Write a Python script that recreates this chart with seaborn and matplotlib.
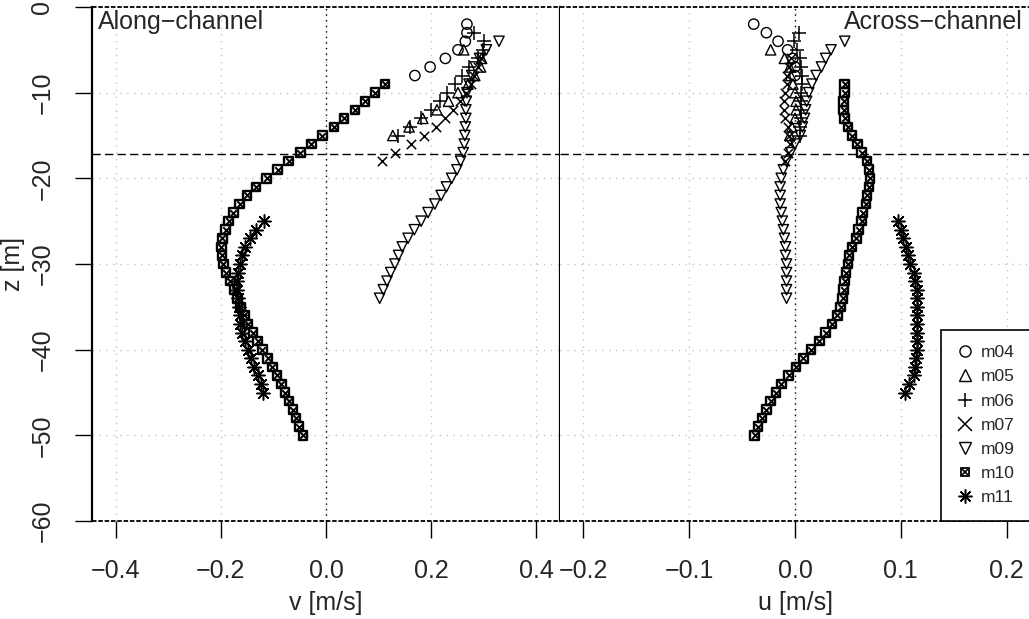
import numpy as np
import pandas as pd
import matplotlib
matplotlib.use("Agg")
import matplotlib.pyplot as plt
import seaborn as sns
from matplotlib.lines import Line2D

sns.set_theme(style="white")
plt.rcParams['font.family'] = ['Liberation Sans', 'DejaVu Sans']

# ---------------- data ----------------
stations = ["m04", "m05", "m06", "m07", "m09", "m10", "m11"]

z_m04 = [-2, -3, -4, -5, -6, -7, -8]
v_m04 = [0.268, 0.268, 0.265, 0.251, 0.227, 0.198, 0.169]
u_m04 = [-0.039, -0.027, -0.016, -0.007, -0.002, 0.000, 0.000]

z_m05 = [-5, -6, -7, -8, -9, -10, -11, -12, -13, -14, -15]
v_m05 = [0.262, 0.296, 0.294, 0.283, 0.270, 0.251, 0.233, 0.211, 0.184, 0.158, 0.127]
u_m05 = [-0.023, -0.010, -0.005, -0.004, -0.002, 0.000, 0.001, 0.001, 0.000, -0.003, -0.005]

z_m06 = [-3, -4, -5, -6, -7, -8, -9, -10, -11, -12, -13, -14, -15]
v_m06 = [0.281, 0.300, 0.298, 0.290, 0.271, 0.259, 0.246, 0.230, 0.216, 0.199, 0.181, 0.159, 0.137]
u_m06 = [0.004, -0.001, 0.002, 0.005, 0.006, 0.007, 0.007, 0.006, 0.006, 0.006, 0.006, 0.005, 0.005]

z_m07 = [-6, -7, -8, -9, -10, -11, -12, -13, -14, -15, -16, -17, -18]
v_m07 = [0.295, 0.289, 0.282, 0.276, 0.267, 0.254, 0.241, 0.227, 0.210, 0.186, 0.161, 0.131, 0.106]
u_m07 = [-0.004, -0.006, -0.008, -0.008, -0.009, -0.010, -0.010, -0.009, -0.007, -0.006, -0.005, -0.007, -0.009]

z_m09 = [-4, -5, -6, -7, -8, -9, -10, -11, -12, -13, -14, -15, -16, -17, -18, -19,
         -20, -21, -22, -23, -24, -25, -26, -27, -28, -29, -30, -31, -32, -33, -34]
v_m09 = [0.329, 0.305, 0.292, 0.284, 0.277, 0.272, 0.268, 0.267, 0.266, 0.266, 0.265,
         0.264, 0.263, 0.261, 0.256, 0.249, 0.239, 0.229, 0.219, 0.207, 0.194, 0.181,
         0.168, 0.156, 0.145, 0.138, 0.131, 0.123, 0.116, 0.109, 0.102]
u_m09 = [0.047, 0.034, 0.029, 0.025, 0.020, 0.016, 0.013, 0.011, 0.010, 0.009, 0.007,
         0.005, 0.000, -0.004, -0.008, -0.011, -0.013, -0.014, -0.014, -0.014, -0.013,
         -0.012, -0.011, -0.010, -0.009, -0.009, -0.008, -0.008, -0.008, -0.008, -0.008]

z_m10 = [-9, -10, -11, -12, -13, -14, -15, -16, -17, -18, -19, -20, -21, -22, -23, -24,
         -25, -26, -27, -28, -29, -30, -31, -32, -33, -34, -35, -36, -37, -38, -39, -40,
         -41, -42, -43, -44, -45, -46, -47, -48, -49, -50]
v_m10 = [0.112, 0.093, 0.074, 0.055, 0.034, 0.015, -0.007, -0.028, -0.049, -0.071,
         -0.092, -0.113, -0.133, -0.150, -0.164, -0.176, -0.185, -0.191, -0.197, -0.199,
         -0.198, -0.195, -0.190, -0.182, -0.174, -0.168, -0.163, -0.155, -0.148, -0.139,
         -0.130, -0.121, -0.111, -0.102, -0.093, -0.085, -0.078, -0.070, -0.063, -0.057,
         -0.051, -0.044]
u_m10 = [0.047, 0.047, 0.046, 0.046, 0.047, 0.050, 0.054, 0.059, 0.063, 0.068, 0.070,
         0.071, 0.070, 0.068, 0.067, 0.064, 0.063, 0.060, 0.058, 0.054, 0.051, 0.050,
         0.048, 0.047, 0.046, 0.045, 0.043, 0.040, 0.035, 0.029, 0.023, 0.015, 0.008,
         0.001, -0.006, -0.013, -0.018, -0.023, -0.027, -0.031, -0.035, -0.038]

z_m11 = [-25, -26, -27, -28, -29, -30, -31, -32, -33, -34, -35, -36, -37, -38, -39,
         -40, -41, -42, -43, -44, -45]
v_m11 = [-0.117, -0.133, -0.145, -0.154, -0.160, -0.164, -0.167, -0.169, -0.169, -0.168,
         -0.166, -0.164, -0.163, -0.160, -0.154, -0.148, -0.142, -0.136, -0.130, -0.123,
         -0.119]
u_m11 = [0.097, 0.100, 0.102, 0.105, 0.107, 0.109, 0.112, 0.113, 0.115, 0.115, 0.115,
         0.115, 0.115, 0.115, 0.115, 0.115, 0.114, 0.113, 0.112, 0.108, 0.104]

z_interface = -17.2

v_ticks = [-0.4, -0.2, 0.0, 0.2, 0.4]
v_ticklabels = ["\u22120.4", "\u22120.2", "0.0", "0.2", "0.4"]
u_ticks = [-0.2, -0.1, 0.0, 0.1, 0.2]
u_ticklabels = ["\u22120.2", "\u22120.1", "0.0", "0.1", "0.2"]
z_ticks = [0, -10, -20, -30, -40, -50, -60]
z_ticklabels = ["0", "\u221210", "\u221220", "\u221230", "\u221240", "\u221250", "\u221260"]

series = {
    "m04": (z_m04, v_m04, u_m04),
    "m05": (z_m05, v_m05, u_m05),
    "m06": (z_m06, v_m06, u_m06),
    "m07": (z_m07, v_m07, u_m07),
    "m09": (z_m09, v_m09, u_m09),
    "m10": (z_m10, v_m10, u_m10),
    "m11": (z_m11, v_m11, u_m11),
}
frames = []
for st in stations:
    z, v, u = series[st]
    frames.append(pd.DataFrame({"station": st, "z": z, "v": v, "u": u}))
df = pd.concat(frames, ignore_index=True)

# ---------------- styles ----------------
styles = {
    "m04": dict(marker="o", s=55, open=True, lw=1.0),
    "m05": dict(marker="^", s=55, open=True, lw=1.0),
    "m06": dict(marker="+", s=90, open=False, lw=1.1),
    "m07": dict(marker="x", s=45, open=False, lw=1.1),
    "m09": dict(marker="v", s=55, open=True, lw=1.0),
    "m10": dict(marker="s", s=38, open=True, lw=1.7),
    "m11": dict(marker=(8, 2, 0), s=90, open=False, lw=1.1),
}

W, H = 1029, 619
fig = plt.figure(figsize=(W / 100, H / 100), dpi=100)
axL = fig.add_axes([92 / W, (H - 521) / H, 468 / W, 514 / H])
axR = fig.add_axes([560 / W, (H - 521) / H, 470 / W, 514 / H])

FS = 18
grid_kw = dict(color="#c4c4c4", linestyle=(0, (1, 4)), linewidth=1.0, zorder=0)


def draw(ax, xcol):
    for st in stations:
        sub = df[df.station == st]
        stl = styles[st]
        if stl["open"]:
            sns.scatterplot(data=sub, x=xcol, y="z", marker=stl["marker"], s=stl["s"],
                            color="black", facecolor="none", edgecolor="black",
                            linewidth=stl["lw"], ax=ax, zorder=3, legend=False)
        else:
            sns.scatterplot(data=sub, x=xcol, y="z", marker=stl["marker"], s=stl["s"],
                            color="black", linewidth=stl["lw"], ax=ax, zorder=3,
                            legend=False)
        if st == "m10":
            sns.scatterplot(data=sub, x=xcol, y="z", marker="x", s=22,
                            color="black", linewidth=1.4, ax=ax, zorder=4, legend=False)
    ax.set_ylim(-60, 0)
    ax.axvline(0, color="black", linestyle=(0, (1, 3)), linewidth=1.0, zorder=2)
    ax.axhline(z_interface, color="black", linestyle=(0, (6, 3)), linewidth=1.0, zorder=2)
    for yy in (0, -60):
        ax.axhline(yy, color="black", linestyle=(0, (2.5, 1)), linewidth=1.3,
                   zorder=5, clip_on=False)
    ax.spines["top"].set_visible(False)
    ax.spines["bottom"].set_visible(False)
    ax.set_facecolor("white")
    ax.set_ylabel("")


draw(axL, "v")
draw(axR, "u")

# left axis
axL.set_xlim(-0.445, 0.445)
axL.set_xticks(v_ticks)
axL.set_xticklabels(v_ticklabels)
axL.set_yticks(z_ticks)
axL.set_yticklabels(z_ticklabels, rotation=90, va="center")
for x in v_ticks:
    axL.axvline(x, **grid_kw)
for y in z_ticks[1:-1]:
    axL.axhline(y, **grid_kw)
axL.set_xlabel("v [m/s]", fontsize=FS, labelpad=6)
axL.set_ylabel("z [m]", fontsize=FS)
axL.yaxis.label.set_va("center")
axL.yaxis.set_label_coords(-0.168, 0.5)
axL.spines["left"].set_linewidth(1.6)
axL.spines["left"].set_color("black")
axL.spines["right"].set_linewidth(1.6)
axL.spines["right"].set_color("black")
axL.tick_params(axis="x", direction="out", length=12, width=1.0,
                color="black", labelsize=FS, pad=15, bottom=True)
axL.tick_params(axis="y", direction="out", length=12, width=1.0,
                color="black", labelsize=FS, pad=15, left=True)
axL.text(0.012, 0.995, "Along\u2212channel", transform=axL.transAxes, ha="left",
         va="top", fontsize=FS, zorder=6)

# right axis
axR.set_xlim(-0.222, 0.222)
axR.set_xticks(u_ticks)
axR.set_xticklabels(u_ticklabels)
axR.set_yticks([])
for x in u_ticks:
    axR.axvline(x, **grid_kw)
for y in z_ticks[1:-1]:
    axR.axhline(y, **grid_kw)
axR.set_xlabel("u [m/s]", fontsize=FS, labelpad=6)
axR.spines["left"].set_visible(False)
axR.spines["right"].set_visible(False)
axR.tick_params(axis="x", direction="out", length=12, width=1.0, color="black",
                labelsize=FS, pad=15, bottom=True)
axR.text(0.985, 0.995, "Across\u2212channel", transform=axR.transAxes, ha="right",
         va="top", fontsize=FS, zorder=6)

# legend
handles = []
for st in stations:
    stl = styles[st]
    if st == "m10":
        h1 = Line2D([], [], marker="s", linestyle="none", color="black",
                    markerfacecolor="none", markersize=6, markeredgewidth=1.3)
        h2 = Line2D([], [], marker="x", linestyle="none", color="black",
                    markersize=4.5, markeredgewidth=1.2)
        handles.append((h1, h2))
    elif stl["open"]:
        handles.append(Line2D([], [], marker=stl["marker"], linestyle="none",
                              color="black", markerfacecolor="none", markersize=8,
                              markeredgewidth=1.0))
    else:
        handles.append(Line2D([], [], marker=stl["marker"], linestyle="none",
                              color="black", markersize=10, markeredgewidth=1.1))
leg = axR.legend(handles, stations, loc="lower right", bbox_to_anchor=(1.0, 0.0),
                 borderaxespad=0, frameon=True, fancybox=False, framealpha=1,
                 edgecolor="black", fontsize=12.5, handlelength=1.0,
                 handletextpad=0.4, labelspacing=0.52, borderpad=0.9)
leg.get_frame().set_linewidth(1.2)
leg.set_zorder(7)

fig.savefig("out.png", dpi=100, facecolor="white")
